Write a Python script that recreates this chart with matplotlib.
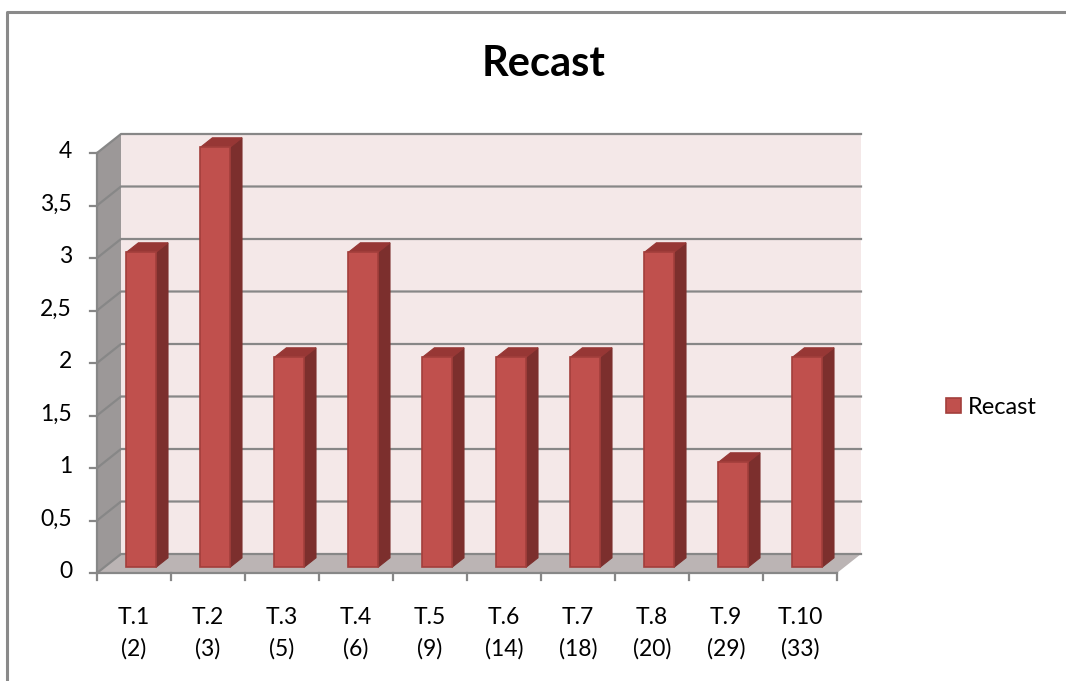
import matplotlib
matplotlib.use("Agg")
import matplotlib.pyplot as plt
from matplotlib.patches import Polygon
from matplotlib.lines import Line2D

# ---- data ----
categories = ["T.1\n(2)", "T.2\n(3)", "T.3\n(5)", "T.4\n(6)", "T.5\n(9)",
              "T.6\n(14)", "T.7\n(18)", "T.8\n(20)", "T.9\n(29)", "T.10\n(33)"]
recast = [3, 4, 2, 3, 2, 2, 2, 3, 1, 2]
yticks = [0, 0.5, 1, 1.5, 2, 2.5, 3, 3.5, 4]
ytick_labels = ["0", "0,5", "1", "1,5", "2", "2,5", "3", "3,5", "4"]

# ---- style ----
W, H = 1066, 681
FONT = "Lato"
FS = 16.5
BAR_FRONT = "#c0504d"
BAR_TOP = "#973735"
BAR_SIDE = "#7c2f2d"
BAR_EDGE = "#a33f3c"
BACK_WALL = "#f4e8e8"
SIDE_WALL = "#9c9898"
FLOOR = "#bbb4b4"
GRID = "#878787"

# pseudo-3D depth offset, in data units (one category = 74 px, one unit = 105 px)
PX_X, PX_Y = 74.0, 105.0
DX = 24 / PX_X
DY = 19 / PX_Y
BAR_W = 0.4
F0, F1 = 0.3, 0.8   # bar front / back as fraction of depth


def proj(x, y, d):
    return (x + d * DX, y + d * DY)


fig = plt.figure(figsize=(W / 100, H / 100), dpi=100)
ax = fig.add_axes([97 / W, (H - 573) / H, 740 / W, 420 / H])
n = len(recast)
ax.set_xlim(0, n)
ax.set_ylim(0, 4)
ax.axis("off")

ymax = yticks[-1]
kw = dict(clip_on=False)

# walls and floor
ax.add_patch(Polygon([proj(0, 0, 1), proj(n, 0, 1), proj(n, ymax, 1), proj(0, ymax, 1)],
                     closed=True, facecolor=BACK_WALL, edgecolor="none", zorder=1, **kw))
ax.add_patch(Polygon([proj(0, 0, 0), proj(0, 0, 1), proj(0, ymax, 1), proj(0, ymax, 0)],
                     closed=True, facecolor=SIDE_WALL, edgecolor="none", zorder=1, **kw))
ax.add_patch(Polygon([proj(0, 0, 0), proj(n, 0, 0), proj(n, 0, 1), proj(0, 0, 1)],
                     closed=True, facecolor=FLOOR, edgecolor="none", zorder=1, **kw))

# gridlines on back wall and side wall
for v in yticks:
    a, b = proj(0, v, 0), proj(0, v, 1)
    c = proj(n, v, 1)
    ax.plot([a[0], b[0], c[0]], [a[1], b[1], c[1]], color=GRID, lw=1.6, zorder=2, **kw)

# bars
front_handle = None
for i, v in enumerate(recast):
    x0 = i + 0.5 - BAR_W / 2
    x1 = i + 0.5 + BAR_W / 2
    side = Polygon([proj(x1, 0, F0), proj(x1, 0, F1), proj(x1, v, F1), proj(x1, v, F0)],
                   closed=True, facecolor=BAR_SIDE, edgecolor=BAR_SIDE, lw=0.8, zorder=3, **kw)
    top = Polygon([proj(x0, v, F0), proj(x1, v, F0), proj(x1, v, F1), proj(x0, v, F1)],
                  closed=True, facecolor=BAR_TOP, edgecolor=BAR_TOP, lw=0.8, zorder=3, **kw)
    front = Polygon([proj(x0, 0, F0), proj(x1, 0, F0), proj(x1, v, F0), proj(x0, v, F0)],
                    closed=True, facecolor=BAR_FRONT, edgecolor=BAR_EDGE, lw=1.2, zorder=4, **kw)
    ax.add_patch(side)
    ax.add_patch(top)
    ax.add_patch(front)
    front_handle = front

# axis lines and ticks
ax.plot([0, 0], [0, ymax], color=GRID, lw=1.6, zorder=5, **kw)
ax.plot([0, n], [0, 0], color=GRID, lw=1.6, zorder=5, **kw)
for v, lab in zip(yticks, ytick_labels):
    ax.plot([-7 / PX_X, 0], [v, v], color=GRID, lw=1.6, zorder=5, **kw)
    ax.text(-25 / PX_X, v + 1.5 / PX_Y, lab, ha="right", va="center", fontsize=FS,
            family=FONT, color="black", **kw)
for i in range(n + 1):
    ax.plot([i, i], [0, -7 / PX_Y], color=GRID, lw=1.6, zorder=5, **kw)
for i, lab in enumerate(categories):
    top_line, bottom_line = lab.split("\n")
    ax.text(i + 0.5, -45 / PX_Y, top_line, ha="center", va="center",
            fontsize=FS, family=FONT, **kw)
    ax.text(i + 0.5, -76 / PX_Y, bottom_line, ha="center", va="center",
            fontsize=FS, family=FONT, **kw)

# title
fig.text(544 / W, 1 - 64 / H, "Recast", ha="center", va="center",
         fontsize=30, fontweight="bold", family=FONT)

# legend
fig.legend([front_handle], ["Recast"], loc="center left",
           bbox_to_anchor=(937 / W, 1 - 407 / H), frameon=False,
           prop={"family": FONT, "size": 17}, handlelength=0.62,
           handleheight=0.62, handletextpad=0.3, borderaxespad=0)

# chart frame
fig.add_artist(Line2D([7 / W, 7 / W, 1], [0, 1 - 12 / H, 1 - 12 / H],
                      color="#8a8a8a", lw=2.2, transform=fig.transFigure))

fig.savefig("out.png", dpi=100)
